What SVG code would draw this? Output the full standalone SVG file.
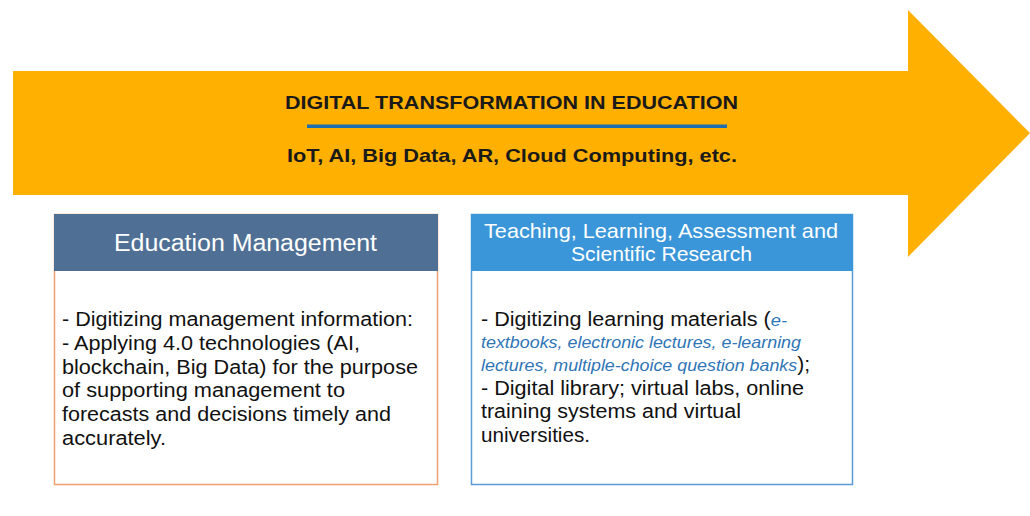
<svg xmlns="http://www.w3.org/2000/svg" width="1030" height="516" viewBox="0 0 1030 516">
  <style>
    text { font-family: "Liberation Sans", Arial, sans-serif; }
    .title { font-size: 19px; font-weight: bold; fill: #1a1a1a; }
    .head { font-size: 23px; fill: #ffffff; }
    .head2 { font-size: 21px; fill: #ffffff; }
    .body { font-size: 20px; fill: #111111; }
    .em { font-style: italic; fill: #2E75B6; font-size: 17px; }
  </style>
  <rect width="1030" height="516" fill="#ffffff"/>

  <!-- big orange arrow -->
  <g id="arrow">
    <polygon points="13,71 908,71 908,10 1030,133 908,257 908,195 13,195" fill="#FFB000"/>
    <text class="title" x="285" y="109" textLength="453" lengthAdjust="spacingAndGlyphs">DIGITAL TRANSFORMATION IN EDUCATION</text>
    <rect x="307" y="124.5" width="420" height="3.5" fill="#1F6FB0"/>
    <text class="title" x="287" y="162" textLength="450" lengthAdjust="spacingAndGlyphs">IoT, AI, Big Data, AR, Cloud Computing, etc.</text>
  </g>

  <!-- left card -->
  <g id="education-management">
    <rect x="54.5" y="214.5" width="383" height="270" fill="#ffffff" stroke="#F0A070" stroke-width="1.5"/>
    <rect x="54" y="214" width="384" height="57" fill="#4F7094"/>
    <text class="head" x="114" y="251" textLength="263" lengthAdjust="spacingAndGlyphs">Education Management</text>
    <text class="body" x="62" y="326" textLength="351" lengthAdjust="spacingAndGlyphs">- Digitizing management information:</text>
    <text class="body" x="62" y="350" textLength="298" lengthAdjust="spacingAndGlyphs">- Applying 4.0 technologies (AI,</text>
    <text class="body" x="62" y="374" textLength="356" lengthAdjust="spacingAndGlyphs">blockchain, Big Data) for the purpose</text>
    <text class="body" x="62" y="397" textLength="283" lengthAdjust="spacingAndGlyphs">of supporting management to</text>
    <text class="body" x="62" y="421" textLength="329" lengthAdjust="spacingAndGlyphs">forecasts and decisions timely and</text>
    <text class="body" x="62" y="445" textLength="104" lengthAdjust="spacingAndGlyphs">accurately.</text>
  </g>

  <!-- right card -->
  <g id="teaching-learning">
    <rect x="471.5" y="214.5" width="381" height="270" fill="#ffffff" stroke="#5B9BD5" stroke-width="1.5"/>
    <rect x="471" y="214" width="382" height="57" fill="#3A96D8"/>
    <text class="head2" x="484" y="238" textLength="354" lengthAdjust="spacingAndGlyphs">Teaching, Learning, Assessment and</text>
    <text class="head2" x="571" y="261" textLength="181" lengthAdjust="spacingAndGlyphs">Scientific Research</text>
    <text class="body" x="481" y="326" textLength="306" lengthAdjust="spacingAndGlyphs">- Digitizing learning materials (<tspan class="em">e-</tspan></text>
    <text class="em" x="481" y="348" textLength="320" lengthAdjust="spacingAndGlyphs">textbooks, electronic lectures, e-learning</text>
    <text class="body" x="481" y="371" textLength="329" lengthAdjust="spacingAndGlyphs"><tspan class="em">lectures, multiple-choice question banks</tspan>);</text>
    <text class="body" x="481" y="395" textLength="323" lengthAdjust="spacingAndGlyphs">- Digital library; virtual labs, online</text>
    <text class="body" x="481" y="418" textLength="260" lengthAdjust="spacingAndGlyphs">training systems and virtual</text>
    <text class="body" x="481" y="442" textLength="109" lengthAdjust="spacingAndGlyphs">universities.</text>
  </g>
</svg>
